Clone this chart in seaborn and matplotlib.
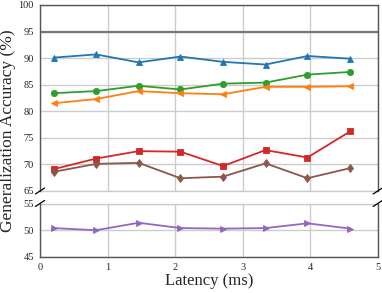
import numpy as np
import pandas as pd
import matplotlib
matplotlib.use("Agg")
import matplotlib.pyplot as plt
import seaborn as sns

# latency values (ms) and accuracy per method
latency = [0.2, 0.83, 1.46, 2.08, 2.71, 3.34, 3.96, 4.59]
acc_blue = [90.1, 90.7, 89.2, 90.3, 89.3, 88.8, 90.4, 89.9]
acc_green = [83.4, 83.8, 84.8, 84.1, 85.2, 85.4, 86.9, 87.4]
acc_orange = [81.5, 82.3, 83.8, 83.4, 83.2, 84.6, 84.6, 84.7]
acc_red = [69.1, 71.1, 72.5, 72.4, 69.7, 72.7, 71.3, 76.2]
acc_brown = [68.6, 70.1, 70.3, 67.4, 67.7, 70.2, 67.4, 69.3]
acc_purple = [50.4, 50.0, 51.4, 50.4, 50.3, 50.4, 51.3, 50.3]
ref_line = 95

top_series = [
    (acc_blue, "#1f77b4", "^"),
    (acc_green, "#2ca02c", "o"),
    (acc_orange, "#ff7f0e", "<"),
    (acc_red, "#d62728", "s"),
    (acc_brown, "#8c564b", "d"),
]
bottom_series = [(acc_purple, "#9467bd", ">")]

sns.set_style("whitegrid")
plt.rcParams["font.family"] = ["Liberation Serif", "DejaVu Serif"]

fig = plt.figure(figsize=(3.82, 2.93), dpi=100)
left, right = 40 / 382, 377.7 / 382
ax_top = fig.add_axes([left, 1 - 191 / 293, right - left, (191 - 5) / 293])
ax_bot = fig.add_axes([left, 1 - 256.7 / 293, right - left, (256.7 - 203.7) / 293])

spine_col = "#555555"
grid_col = "#cccccc"


def draw(ax, series):
    for vals, col, mk in series:
        sns.lineplot(x=latency, y=vals, ax=ax, color=col, marker=mk,
                     markersize=4.5, markeredgewidth=0.6, linewidth=1.3,
                     markeredgecolor=col, zorder=3)


draw(ax_top, top_series)
draw(ax_bot, bottom_series)

ax_top.set_ylim(65, 100)
ax_top.set_yticks([65, 70, 75, 80, 85, 90, 95, 100])
ax_bot.set_ylim(45, 55)
ax_bot.set_yticks([45, 50, 55])
for ax in (ax_top, ax_bot):
    ax.set_xlim(0, 5)
    ax.set_xticks([0, 1, 2, 3, 4, 5])
    ax.grid(True, color=grid_col, linewidth=1.0)
    ax.set_facecolor("white")
    ax.tick_params(axis="both", labelsize=7.5, length=3, width=0.8,
                   color=spine_col, pad=1.5, direction="out")
    for s in ax.spines.values():
        s.set_color(spine_col)
        s.set_linewidth(1.0)

# light grid lines on the broken edges
ax_top.axhline(65, color=grid_col, linewidth=1.0, clip_on=False, zorder=0.5)
ax_bot.axhline(55, color=grid_col, linewidth=1.0, clip_on=False, zorder=0.5)

ax_top.axhline(ref_line, color="#777777", linewidth=1.6, zorder=1)
ax_top.spines["bottom"].set_visible(False)
ax_top.tick_params(axis="x", bottom=False, labelbottom=False)
ax_bot.spines["top"].set_visible(False)

# break marks
d = 0.012
kw = dict(color="black", linewidth=0.9, clip_on=False)
for xx in (left, right):
    fig.add_artist(plt.Line2D([xx - d, xx + d], [1 - 194 / 293, 1 - 188 / 293], **kw))
    fig.add_artist(plt.Line2D([xx - d, xx + d], [1 - 206.5 / 293, 1 - 200.5 / 293], **kw))

fig.text(0.022, 1 - 131 / 293, "Generalization Accuracy (%)", rotation=90,
         ha="center", va="center", fontsize=12.5)
fig.text((left + right) / 2, 1 - 281 / 293, "Latency (ms)", ha="center",
         va="center", fontsize=12)

fig.savefig("out.png", dpi=100)
